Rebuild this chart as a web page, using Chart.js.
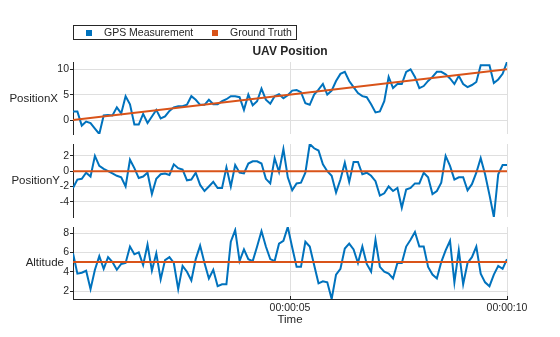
<!DOCTYPE html>
<html><head><meta charset="utf-8">
<script src="https://cdn.jsdelivr.net/npm/chart.js@4"></script>
<style>
html,body{margin:0;padding:0;background:#fff;}
#wrap{position:relative;width:560px;height:337px;overflow:hidden;font-family:"Liberation Sans",Arial,Helvetica,sans-serif;color:#262626;}
canvas{position:absolute;left:0;top:0;}
.t{position:absolute;white-space:nowrap;}
.sq{position:absolute;width:6px;height:6px;}
</style></head>
<body><div id="wrap">
<canvas id="c1" width="560" height="337"></canvas>
<canvas id="c2" width="560" height="337"></canvas>
<canvas id="c3" width="560" height="337"></canvas>
<div style="position:absolute;left:73px;top:25px;width:224px;height:15px;border:1px solid #262626;box-sizing:border-box;"></div>
<div class="sq" id="sq1" style="left:86px;top:30px;"></div>
<div class="t" id="lg1" style="left:104px;top:26px;font-size:10.5px;line-height:13px;"></div>
<div class="sq" id="sq2" style="left:212px;top:30px;"></div>
<div class="t" id="lg2" style="left:230px;top:26px;font-size:10.5px;line-height:13px;"></div>
<div class="t" id="title" style="left:190px;width:200px;text-align:center;top:44px;font-size:12px;line-height:15px;font-weight:bold;"></div>
<div class="t" id="yl0" style="right:502px;top:91px;font-size:11.5px;line-height:14px;"></div>
<div class="t" id="yl1" style="right:500px;top:173px;font-size:11.5px;line-height:14px;"></div>
<div class="t" id="yl2" style="right:496px;top:255px;font-size:11.5px;line-height:14px;"></div>
</div>
<script>
// ---- data ----
const TIME = [0,0.101,0.202,0.303,0.404,0.505,0.606,0.707,0.808,0.909,
1.010,1.111,1.212,1.313,1.414,1.515,1.616,1.717,1.818,1.919,
2.020,2.121,2.222,2.323,2.424,2.525,2.626,2.727,2.828,2.929,
3.030,3.131,3.232,3.333,3.434,3.535,3.636,3.737,3.838,3.939,
4.040,4.141,4.242,4.343,4.444,4.545,4.646,4.747,4.848,4.949,
5.051,5.152,5.253,5.354,5.455,5.556,5.657,5.758,5.859,5.960,
6.061,6.162,6.263,6.364,6.465,6.566,6.667,6.768,6.869,6.970,
7.071,7.172,7.273,7.374,7.475,7.576,7.677,7.778,7.879,7.980,
8.081,8.182,8.283,8.384,8.485,8.586,8.687,8.788,8.889,8.990,
9.091,9.192,9.293,9.394,9.495,9.596,9.697,9.798,9.899,10];

const POS_X = [1.7,1.7,-1.1,-0.3,-0.6,-1.7,-2.76,0.9,1.0,0.9,
2.5,1.3,4.7,3.1,-0.9,-0.9,1.2,-0.6,0.7,2.0,
0.3,0.7,1.8,2.5,2.7,2.7,3.0,4.7,4.0,3.0,
3.0,4.0,3.1,3.1,3.7,4.1,4.7,4.7,4.5,2.0,
5.0,2.9,3.7,6.2,4.0,3.2,4.7,5.1,4.3,4.9,
5.8,5.9,5.5,3.3,3.0,
5.0,6.0,7.1,5.0,5.8,7.7,9.1,9.5,7.7,6.5,
5.3,4.7,4.5,3.1,1.5,1.7,3.7,8.5,6.3,7.1,
7.1,9.5,10.0,8.5,6.3,6.7,7.7,8.5,9.5,9.5,
9.0,8.2,7.1,8.7,7.1,6.5,6.9,7.5,10.8,10.8,
10.8,7.3,8.0,9.1,11.44];

const POS_Y = [-2.2,-1.1,-1.0,-0.2,-0.7,2.0,0.7,0.3,0.0,-0.3,
-0.6,-0.8,-2.0,1.5,0.4,-0.9,-0.7,-0.2,-3.0,-1.0,
-0.4,-0.3,-0.5,0.9,0.4,0.2,-1.2,-1.1,-0.2,-1.8,
-2.6,-2.0,-1.4,-2.2,-2.2,0.5,-2.0,0.8,-0.2,-0.3,
1.0,1.3,1.3,1.0,-1.0,-1.6,1.7,-0.1,2.9,
-0.8,-2.5,-1.6,-1.5,-0.2,3.56,
3.0,2.7,0.9,0.0,-0.6,-2.8,-1.1,1.1,-1.4,1.2,
1.2,-0.4,-0.2,-0.6,-1.3,-3.2,-2.9,-2.0,-2.6,-2.2,
-4.8,-2.4,-2.2,-1.6,-1.6,-0.2,-0.8,-3.0,-2.6,-1.5,
2.0,0.7,-1.1,-0.8,-0.8,-2.5,-1.7,-0.2,1.7,-0.4,
-3.1,-6.0,-0.4,0.8,0.8];

const ALTITUDE = [5.9,3.8,3.9,4.1,2.2,4.2,5.6,4.3,5.5,5.0,
4.2,4.8,4.9,6.6,5.8,6.0,4.7,6.8,4.1,5.9,
3.2,5.2,5.5,4.9,2.2,4.6,4.0,3.1,5.3,6.7,
4.9,3.3,4.2,2.5,2.7,2.7,7.1,8.3,5.1,6.3,
5.3,5.1,6.6,8.2,6.6,5.3,5.1,6.9,7.2,
8.62,6.5,4.5,4.5,7.1,6.6,
4.7,2.8,3.0,2.9,1.18,3.7,4.3,6.4,6.9,6.3,
4.9,6.6,4.8,4.0,7.3,4.5,4.0,3.8,3.3,4.9,
4.9,6.6,7.3,8.1,6.6,6.6,4.5,3.7,3.3,5.0,
6.2,7.2,2.9,6.2,2.7,4.9,5.5,6.6,3.8,2.9,
2.5,3.7,4.6,4.3,5.3];

const TRUTH_TIME = [0, 10];
const TRUTH_X = [0, 10];
const TRUTH_Y = [0, 0];
const TRUTH_ALT = [5, 5];

const X_TICKS = [5, 10];
const X_TICK_LABELS = ['00:00:05', '00:00:10'];
const Y_TICKS_X = [0, 5, 10];
const Y_TICKS_Y = [-4, -2, 0, 2];
const Y_TICKS_ALT = [2, 4, 6, 8];

const SERIES_NAMES = ['GPS Measurement', 'Ground Truth'];
const PANEL_NAMES = ['PositionX', 'PositionY', 'Altitude'];
const CHART_TITLE = 'UAV Position';
const X_TITLE = 'Time';

// ---- styles ----
const BLUE = '#0072BD', ORANGE = '#D95319', TXT = '#262626', GRID = '#dfdfdf';
const FONT = '"Liberation Sans", Arial, Helvetica, sans-serif';
const W = 560, H = 337;

document.getElementById('lg1').textContent = SERIES_NAMES[0];
document.getElementById('lg2').textContent = SERIES_NAMES[1];
document.getElementById('sq1').style.background = BLUE;
document.getElementById('sq2').style.background = ORANGE;
document.getElementById('title').textContent = CHART_TITLE;
PANEL_NAMES.forEach((n, i) => document.getElementById('yl' + i).textContent = n);

function panel(id, vals, truth, yTicks, top, bottom, isBottom) {
  const all = vals.concat(truth);
  const yMin = Math.min(...all), yMax = Math.max(...all);
  return new Chart(document.getElementById(id), {
    type: 'line',
    data: {
      datasets: [
        { label: SERIES_NAMES[0], data: TIME.map((t, i) => ({ x: t, y: vals[i] })),
          borderColor: BLUE, backgroundColor: BLUE, borderWidth: 2, pointRadius: 0, tension: 0, order: 2 },
        { label: SERIES_NAMES[1], data: TRUTH_TIME.map((t, i) => ({ x: t, y: truth[i] })),
          borderColor: ORANGE, backgroundColor: ORANGE, borderWidth: 2, pointRadius: 0, tension: 0, order: 1 }
      ]
    },
    options: {
      responsive: false, animation: false, devicePixelRatio: 1, events: [],
      layout: { padding: { left: 0, right: 53, top: top, bottom: isBottom ? 0 : H - bottom } },
      plugins: { legend: { display: false }, tooltip: { enabled: false }, title: { display: false } },
      scales: {
        x: {
          type: 'linear', min: 0, max: 10,
          afterBuildTicks: s => { s.ticks = X_TICKS.map(v => ({ value: v })); },
          ticks: { display: isBottom, maxRotation: 0, autoSkip: false, padding: 6, color: TXT,
                   font: { family: FONT, size: 10.5 }, callback: (v, i) => X_TICK_LABELS[i] },
          grid: { color: GRID, lineWidth: 1, drawTicks: isBottom, tickLength: -3, tickColor: TXT },
          border: { display: isBottom, color: TXT, width: 1 },
          title: { display: isBottom, text: X_TITLE, color: TXT, font: { family: FONT, size: 11.5 },
                   padding: { top: 0, bottom: 10 } },
          afterFit: s => { s.height = isBottom ? H - bottom : 0; }
        },
        y: {
          min: yMin, max: yMax,
          afterBuildTicks: s => { s.ticks = yTicks.map(v => ({ value: v })); },
          ticks: { padding: 1, color: TXT, font: { family: FONT, size: 10.5 } },
          grid: { color: GRID, tickColor: TXT, tickLength: 3, drawTicks: true },
          border: { display: true, color: TXT, width: 1 },
          afterFit: s => { s.width = 73; }
        }
      }
    }
  });
}

panel('c1', POS_X, TRUTH_X, Y_TICKS_X, 62, 134, false);
panel('c2', POS_Y, TRUTH_Y, Y_TICKS_Y, 144, 217, false);
panel('c3', ALTITUDE, TRUTH_ALT, Y_TICKS_ALT, 227, 299, true);
</script>
</body></html>
